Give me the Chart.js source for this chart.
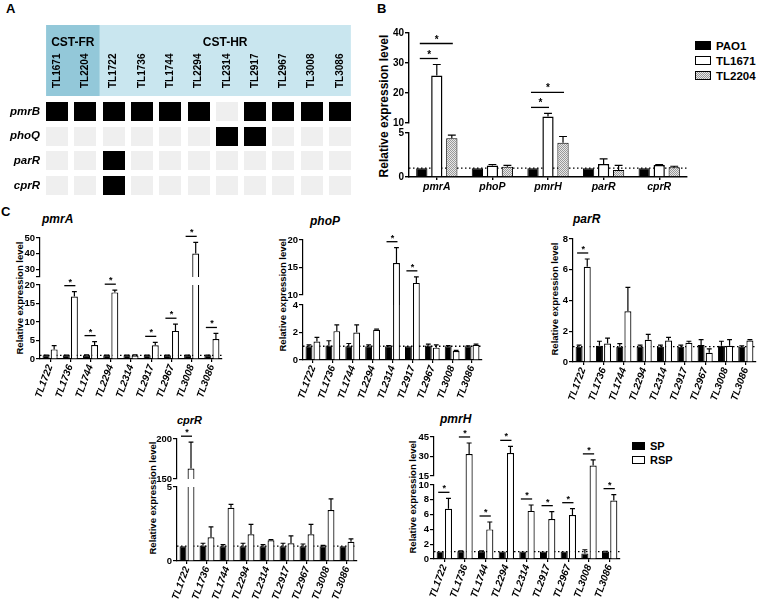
<!DOCTYPE html>
<html lang="en">
<head>
<meta charset="UTF-8">
<title>Two-component regulator expression</title>
<script src="https://cdn.jsdelivr.net/npm/chart.js"></script>
<style>
  body { margin: 0; background: #fff; }
  #fig { position: relative; width: 760px; height: 607px; overflow: hidden; font-family: 'Liberation Sans', Arial, sans-serif; color: #000; }
  #fig canvas { position: absolute; }
  .tag { position: absolute; font-size: 13px; font-weight: bold; line-height: 1; }
  .ytitle { position: absolute; font-size: 9.5px; font-weight: bold; white-space: nowrap; line-height: 1; transform: translate(-50%, -50%) rotate(-90deg); }
  .gene { position: absolute; font-size: 12px; font-weight: bold; font-style: italic; line-height: 1; }
  .leg { position: absolute; font-weight: bold; line-height: 12px; white-space: nowrap; }
  .leg span { display: inline-block; vertical-align: middle; border: 1.3px solid #000; box-sizing: border-box; margin-right: 5px; position: relative; top: -1px; }
</style>
</head>
<body>
<div id="fig">
  <div class="tag" style="left:6px;top:2px">A</div>
  <div class="tag" style="left:377px;top:2px">B</div>
  <div class="tag" style="left:1px;top:205px">C</div>

  <div class="ytitle" style="left:384px;top:106px;font-size:12px">Relative expression level</div>
  <div class="ytitle" style="left:20px;top:298px">Relative expression level</div>
  <div class="ytitle" style="left:283px;top:295px">Relative expression level</div>
  <div class="ytitle" style="left:555px;top:299px">Relative expression level</div>
  <div class="ytitle" style="left:153px;top:498px">Relative expression level</div>
  <div class="ytitle" style="left:413px;top:497px">Relative expression level</div>

  <div class="gene" style="left:42px;top:213px">pmrA</div>
  <div class="gene" style="left:310px;top:215px">phoP</div>
  <div class="gene" style="left:573px;top:213px">parR</div>
  <div class="gene" style="left:177px;top:415px;font-size:11px">cprR</div>
  <div class="gene" style="left:440px;top:413px">pmrH</div>

  <div class="leg" style="left:695px;top:40px;font-size:11.5px"><span style="width:16px;height:9px;background:#000"></span>PAO1</div>
  <div class="leg" style="left:695px;top:55px;font-size:11.5px"><span style="width:16px;height:9px;background:#fff"></span>TL1671</div>
  <div class="leg" style="left:695px;top:70px;font-size:11.5px"><span style="width:16px;height:9px;background:repeating-conic-gradient(#999 0 25%, #e8e8e8 0 50%) 0 0/2px 2px"></span>TL2204</div>

  <div class="leg" style="left:632px;top:440px;font-size:11px"><span style="width:13px;height:8px;background:#000"></span>SP</div>
  <div class="leg" style="left:632px;top:454px;font-size:11px"><span style="width:13px;height:8px;background:#fff"></span>RSP</div>
</div>

<script>
// ---------- A: mutation map ----------
const strainsA = ['TL1671', 'TL2204', 'TL1722', 'TL1736', 'TL1744', 'TL2294', 'TL2314', 'TL2917', 'TL2967', 'TL3008', 'TL3086'];
const genesA = ['pmrB', 'phoQ', 'parR', 'cprR'];
const pmrBHit = [1, 1, 1, 1, 1, 1, 0, 1, 1, 1, 1];
const phoQHit = [0, 0, 0, 0, 0, 0, 1, 1, 0, 0, 0];
const parRHit = [0, 0, 1, 0, 0, 0, 0, 0, 0, 0, 0];
const cprRHit = [0, 0, 1, 0, 0, 0, 0, 0, 0, 0, 0];
const groupsA = ['CST-FR', 'CST-HR'];
const groupSizeA = [2, 9];

// ---------- B: PAO1 vs two isolates ----------
const genesB = ['pmrA', 'phoP', 'pmrH', 'parR', 'cprR'];
const pao1Mean = [1, 1, 1, 1, 1];
const pao1Sd = [0, 0, 0, 0, 0];
const tl1671Mean = [25.8, 1.3, 12.2, 1.48, 1.35];
const tl1671Sd = [3.7, 0.12, 1.0, 0.57, 0.07];
const tl2204Mean = [4.4, 1.17, 3.9, 0.8, 1.12];
const tl2204Sd = [0.35, 0.15, 0.7, 0.53, 0.1];
const sigB = [[0, 0, 1], [0, 0, 2], [2, 0, 1], [2, 0, 2]]; // [gene, from strain, to strain]

// ---------- C: SP vs RSP per isolate ----------
const strainsC = ['TL1722', 'TL1736', 'TL1744', 'TL2294', 'TL2314', 'TL2917', 'TL2967', 'TL3008', 'TL3086'];

const pmrASp = [1, 1, 1, 1, 1, 1, 1, 1, 1];
const pmrASpSd = [0.05, 0.05, 0.1, 0.05, 0.05, 0.05, 0.05, 0.05, 0.05];
const pmrARsp = [2.6, 16.9, 3.8, 18.0, 0.95, 3.7, 7.6, 40.0, 5.4];
const pmrARspSd = [1.0, 1.3, 0.9, 0.6, 0.15, 0.8, 1.8, 7.2, 1.5];
const pmrASig = [0, 1, 1, 1, 0, 1, 1, 1, 1];

const phoPSp = [1.0, 1.05, 1.0, 1.0, 1.0, 1.0, 1.05, 1.0, 1.0];
const phoPSpSd = [0.1, 0.35, 0.2, 0.1, 0.05, 0, 0.1, 0.05, 0.03];
const phoPRsp = [1.35, 2.1, 2.0, 2.2, 15.8, 12.2, 0.9, 0.65, 1.1];
const phoPRspSd = [0.3, 0.45, 0.55, 0.05, 2.8, 1.1, 0.2, 0.05, 0.05];
const phoPSig = [0, 0, 0, 0, 1, 1, 0, 0, 0];

const parRSp = [1.0, 1.05, 1.0, 1.0, 1.0, 1.0, 1.1, 1.05, 1.0];
const parRSpSd = [0.1, 0.3, 0.2, 0.1, 0.1, 0.1, 0.35, 0.3, 0.05];
const parRRsp = [6.2, 1.2, 3.3, 1.45, 1.4, 1.25, 0.6, 1.05, 1.4];
const parRRspSd = [0.5, 0.35, 1.55, 0.35, 0.2, 0.1, 0.25, 0.4, 0.05];
const parRSig = [1, 0, 0, 0, 0, 0, 0, 0, 0];

const cprRSp = [1.0, 1.05, 1.0, 1.0, 1.0, 1.0, 1.0, 1.0, 1.0];
const cprRSpSd = [0, 0.15, 0.1, 0.2, 0.1, 0.2, 0.15, 0.05, 0];
const cprRRsp = [163, 1.6, 3.6, 1.8, 1.4, 1.2, 1.8, 3.45, 1.3];
const cprRRspSd = [33, 0.7, 0.22, 0.68, 0.05, 0.5, 0.68, 0.75, 0.2];
const cprRSig = [1, 0, 0, 0, 0, 0, 0, 0, 0];

const pmrHSp = [1.0, 1.05, 1.05, 1.0, 1.0, 1.0, 1.0, 0.75, 1.0];
const pmrHSpSd = [0, 0.05, 0.05, 0, 0, 0, 0, 0.5, 0.05];
const pmrHRsp = [6.8, 31.9, 4.0, 32.6, 6.5, 5.4, 5.95, 23.0, 7.9];
const pmrHRspSd = [1.4, 8.5, 1.0, 5.2, 0.8, 1.0, 0.85, 4.4, 0.8];
const pmrHSig = [1, 1, 1, 1, 1, 1, 1, 1, 1];

Chart.defaults.font.family = "'Liberation Sans', Arial, sans-serif";
Chart.defaults.color = '#000';
Chart.defaults.animation = false;
Chart.defaults.plugins.legend.display = false;
Chart.defaults.plugins.tooltip.enabled = false;

const fig = document.getElementById('fig');
const YW = 30;   // y axis box width
const PT = 16;   // room above each plot area (stars)
const PR = 8;

function addCanvas(left, top, w, h) {
    const c = document.createElement('canvas');
    c.width = Math.round(w);
    c.height = Math.round(h);
    c.style.left = Math.round(left) + 'px';
    c.style.top = Math.round(top) + 'px';
    fig.appendChild(c);
    return c;
}

function halftone() {
    const c = document.createElement('canvas');
    c.width = 2; c.height = 2;
    const g = c.getContext('2d');
    g.fillStyle = '#e8e8e8'; g.fillRect(0, 0, 2, 2);
    g.fillStyle = '#999'; g.fillRect(0, 0, 1, 1); g.fillRect(1, 1, 1, 1);
    return g.createPattern(c, 'repeat');
}

// dotted line at relative level 1
const refLine = {
    id: 'refLine',
    beforeDatasetsDraw(chart, args, opts) {
        if (opts.value == null) return;
        const ys = chart.scales.y, a = chart.chartArea, ctx = chart.ctx;
        const y = ys.getPixelForValue(opts.value);
        ctx.save();
        ctx.strokeStyle = '#000';
        ctx.lineWidth = 1.3;
        ctx.setLineDash([1.5, 2.5]);
        ctx.beginPath(); ctx.moveTo(a.left, y); ctx.lineTo(a.right, y); ctx.stroke();
        ctx.restore();
    }
};

// upper error bars, taken from dataset.sd
const errorBars = {
    id: 'errorBars',
    afterDatasetsDraw(chart) {
        const ctx = chart.ctx, a = chart.chartArea, ys = chart.scales.y;
        ctx.save();
        ctx.beginPath();
        ctx.rect(a.left, a.top - 1, a.right - a.left, a.bottom - a.top + 1);
        ctx.clip();
        ctx.strokeStyle = '#000';
        ctx.lineWidth = 1.2;
        chart.data.datasets.forEach((ds, i) => {
            chart.getDatasetMeta(i).data.forEach((bar, j) => {
                const sd = ds.sd ? ds.sd[j] : 0;
                if (!sd) return;
                const y0 = ys.getPixelForValue(ds.data[j]);
                const y1 = ys.getPixelForValue(ds.data[j] + sd);
                const half = bar.width * 0.35;
                ctx.beginPath();
                ctx.moveTo(bar.x, y0); ctx.lineTo(bar.x, y1);
                ctx.moveTo(bar.x - half, y1); ctx.lineTo(bar.x + half, y1);
                ctx.stroke();
            });
        });
        ctx.restore();
    }
};

// significance line + star over a pair of bars
const sigMarks = {
    id: 'sigMarks',
    afterDatasetsDraw(chart, args, opts) {
        const marks = opts.marks || [];
        const ys = chart.scales.y, ctx = chart.ctx;
        const used = {};
        ctx.save();
        ctx.strokeStyle = '#000';
        ctx.fillStyle = '#000';
        ctx.lineWidth = 1.3;
        ctx.font = 'bold ' + (opts.size || 10) + "px 'Liberation Sans', Arial, sans-serif";
        ctx.textAlign = 'center';
        ctx.textBaseline = 'alphabetic';
        marks.forEach(([cat, from, to]) => {
            let top = -Infinity;
            for (let d = from; d <= to; d++) {
                const ds = chart.data.datasets[d];
                top = Math.max(top, ds.data[cat] + (ds.sd ? ds.sd[cat] : 0));
            }
            if (top > ys.max || (!opts.lower && top < ys.min)) return;
            let yl = ys.getPixelForValue(top) - 6;
            if (used[cat] !== undefined) yl = Math.min(yl, used[cat] - 15);
            used[cat] = yl;
            const xa = chart.getDatasetMeta(from).data[cat].x;
            const xb = chart.getDatasetMeta(to).data[cat].x;
            ctx.beginPath(); ctx.moveTo(xa - 2, yl); ctx.lineTo(xb + 1, yl); ctx.stroke();
            ctx.fillText('*', (xa + xb) / 2, yl - 1);
        });
        ctx.restore();
    }
};

// one chart per axis segment (broken y axes are stacked segments)
function barPanel(geo, labels, series, marks) {
    geo.segs.forEach((seg, k) => {
        const lower = k === geo.segs.length - 1;
        const below = lower ? geo.xh : 16;
        const canvas = addCanvas(geo.axis - YW, seg.top - PT,
            geo.right - geo.axis + YW + PR, seg.bottom - seg.top + PT + below);
        new Chart(canvas, {
            type: 'bar',
            data: {
                labels: labels,
                datasets: series.map(s => ({
                    data: s.mean,
                    sd: s.sd,
                    backgroundColor: s.fill,
                    borderColor: '#000',
                    borderWidth: s.edge,
                    base: 0,
                    clip: { left: 0, top: 0, right: 0, bottom: !lower && geo.join ? geo.gap : 0 },
                    categoryPercentage: geo.cat,
                    barPercentage: geo.bar
                }))
            },
            options: {
                responsive: false,
                events: [],
                layout: { padding: { top: PT, right: PR, bottom: lower ? 0 : 16, left: 0 } },
                scales: {
                    x: {
                        display: lower,
                        offset: true,
                        afterFit: lower ? (s => { s.height = geo.xh; }) : undefined,
                        grid: { drawOnChartArea: false, offset: false, tickLength: 3, color: '#000', lineWidth: geo.line },
                        border: { color: '#000', width: geo.line },
                        ticks: {
                            autoSkip: false, minRotation: geo.rot, maxRotation: geo.rot, padding: 1, color: '#000',
                            font: { size: geo.xfont, weight: 'bold', style: 'italic' }
                        }
                    },
                    y: {
                        min: seg.min,
                        max: seg.max,
                        afterFit: s => { s.width = YW; },
                        afterBuildTicks: s => { s.ticks = seg.ticks.map(v => ({ value: v })); },
                        grid: { drawOnChartArea: false, tickLength: 4, color: '#000', lineWidth: geo.line },
                        border: { color: '#000', width: geo.line },
                        ticks: {
                            autoSkip: false,
                            padding: 1, color: '#000',
                            font: { size: geo.tick, weight: 'bold' },
                            callback: v => (seg.blank || []).includes(v) ? '' : String(v)
                        }
                    }
                },
                plugins: {
                    refLine: { value: lower ? 1 : null },
                    sigMarks: { marks: marks, lower: lower, size: geo.star }
                }
            },
            plugins: [refLine, errorBars, sigMarks]
        });
    });
}

// ---------- panel A chart ----------
function cellImage(color) {
    const c = document.createElement('canvas');
    c.width = 22; c.height = 19;
    const g = c.getContext('2d');
    g.fillStyle = color;
    g.fillRect(0, 0, 22, 19);
    return c;
}
const cellOn = cellImage('#000');
const cellOff = cellImage('#efefef');

const hitRows = [pmrBHit, phoQHit, parRHit, cprRHit];
const cells = [];
genesA.forEach((g, r) => strainsA.forEach((s, i) => cells.push({ x: s, y: g, hit: hitRows[r][i] })));

const headerA = {
    id: 'headerA',
    beforeDraw(chart) {
        const ctx = chart.ctx, xs = chart.scales.x;
        const px = strainsA.map((s, i) => xs.getPixelForValue(i));
        const x0 = px[0] - 11, x1 = px[px.length - 1] + 11;
        const split = (px[groupSizeA[0] - 1] + px[groupSizeA[0]]) / 2;
        ctx.save();
        ctx.fillStyle = '#c9e6ef';
        ctx.fillRect(x0, 25, x1 - x0, 71);
        ctx.fillStyle = '#93c8d9';
        ctx.fillRect(x0, 25, split - x0, 71);
        ctx.fillStyle = '#000';
        ctx.font = "bold 12px 'Liberation Sans', Arial, sans-serif";
        ctx.textAlign = 'center';
        ctx.textBaseline = 'middle';
        ctx.fillText(groupsA[0], (x0 + split) / 2, 43);
        ctx.fillText(groupsA[1], (split + x1) / 2, 43);
        ctx.font = "bold 10px 'Liberation Sans', Arial, sans-serif";
        ctx.textAlign = 'left';
        px.forEach((x, i) => {
            ctx.save();
            ctx.translate(x, 88);
            ctx.rotate(-Math.PI / 2);
            ctx.fillText(strainsA[i], 0, 0);
            ctx.restore();
        });
        ctx.restore();
    }
};

new Chart(addCanvas(0, 0, 365, 210), {
    type: 'scatter',
    data: {
        datasets: [{
            data: cells,
            pointStyle: c => (c.raw && c.raw.hit ? cellOn : cellOff),
            pointRadius: 10,
            clip: false
        }]
    },
    options: {
        responsive: false,
        events: [],
        layout: { padding: { top: 99, right: 6, bottom: 12, left: 0 } },
        scales: {
            x: { type: 'category', labels: strainsA, offset: true, display: false },
            y: {
                type: 'category', labels: genesA, offset: true,
                afterFit: s => { s.width = 43; },
                grid: { display: false, drawTicks: false },
                border: { display: false },
                ticks: { padding: 3, color: '#000', font: { size: 11.5, weight: 'bold', style: 'italic' } }
            }
        }
    },
    plugins: [headerA]
});

// ---------- panel B ----------
const fillB = ['#000', '#fff', halftone()];
barPanel(
    { axis: 409, right: 687, gap: 10, join: true, xh: 22, rot: 0, cat: 0.81, bar: 0.75, tick: 10, xfont: 10.5, line: 1.4, star: 10,
      segs: [{ min: 10, max: 40, ticks: [10, 20, 30, 40], top: 33, bottom: 123 },
             { min: 0, max: 5, ticks: [0, 5], top: 133, bottom: 177 }] },
    genesB,
    [{ mean: pao1Mean, sd: pao1Sd, fill: fillB[0], edge: 1 },
     { mean: tl1671Mean, sd: tl1671Sd, fill: fillB[1], edge: 1.5 },
     { mean: tl2204Mean, sd: tl2204Sd, fill: fillB[2], edge: 1 }],
    sigB
);

// ---------- panel C ----------
const cStyle = { xh: 52, rot: 70, cat: 0.8, bar: 0.86, tick: 9.5, xfont: 10, line: 1.2, star: 9 };
function pairs(flags) {
    return flags.map((f, i) => (f ? [i, 0, 1] : null)).filter(Boolean);
}
function spRsp(sp, spSd, rsp, rspSd) {
    return [{ mean: sp, sd: spSd, fill: '#000', edge: 1 },
            { mean: rsp, sd: rspSd, fill: '#fff', edge: 1.2 }];
}

barPanel(Object.assign({ axis: 40, right: 222, gap: 8, join: false,
    segs: [{ min: 25, max: 50, ticks: [25, 30, 40, 50], blank: [25], top: 238, bottom: 277 },
           { min: 0, max: 20, ticks: [0, 5, 10, 15, 20], top: 285, bottom: 359 }] }, cStyle),
    strainsC, spRsp(pmrASp, pmrASpSd, pmrARsp, pmrARspSd), pairs(pmrASig));

barPanel(Object.assign({ axis: 303, right: 482, gap: 10, join: true,
    segs: [{ min: 10, max: 20, ticks: [10, 15, 20], top: 240, bottom: 295 },
           { min: 0, max: 4, ticks: [0, 2, 4], top: 305, bottom: 360 }] }, cStyle),
    strainsC, spRsp(phoPSp, phoPSpSd, phoPRsp, phoPRspSd), pairs(phoPSig));

barPanel(Object.assign({ axis: 573, right: 756, gap: 0, join: false,
    segs: [{ min: 0, max: 8, ticks: [0, 2, 4, 6, 8], top: 239, bottom: 362 }] }, cStyle),
    strainsC, spRsp(parRSp, parRSpSd, parRRsp, parRRspSd), pairs(parRSig));

barPanel(Object.assign({ axis: 177, right: 357, gap: 8, join: false,
    segs: [{ min: 150, max: 200, ticks: [150, 200], top: 439, bottom: 479 },
           { min: 0, max: 5, ticks: [0, 5], top: 487, bottom: 561 }] }, cStyle),
    strainsC, spRsp(cprRSp, cprRSpSd, cprRRsp, cprRRspSd), pairs(cprRSig));

barPanel(Object.assign({ axis: 434, right: 620, gap: 9, join: true,
    segs: [{ min: 15, max: 45, ticks: [15, 30, 45], top: 437, bottom: 476 },
           { min: 0, max: 10, ticks: [0, 2, 4, 6, 8, 10], top: 485, bottom: 559 }] }, cStyle),
    strainsC, spRsp(pmrHSp, pmrHSpSd, pmrHRsp, pmrHRspSd), pairs(pmrHSig));
</script>
</body>
</html>
